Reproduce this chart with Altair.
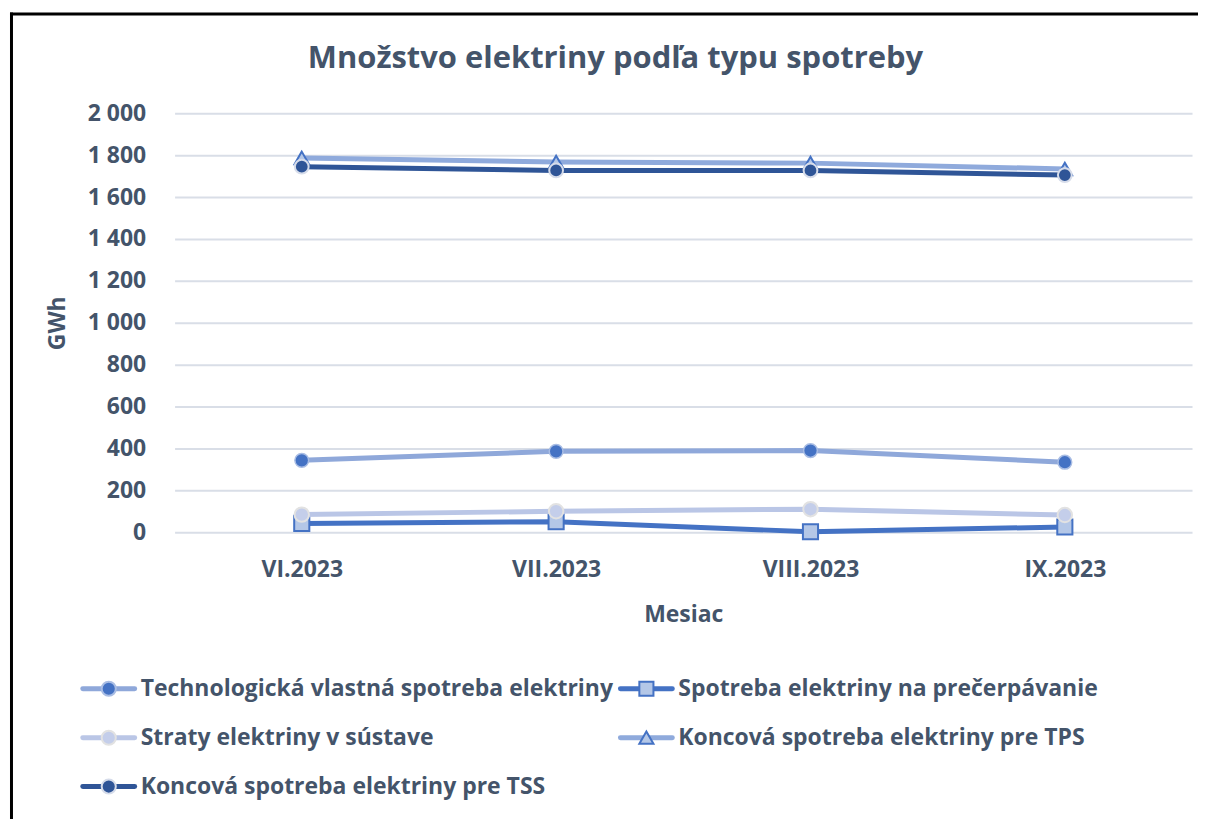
import altair as alt
import pandas as pd

# ---------------- data ----------------
months = ["VI.2023", "VII.2023", "VIII.2023", "IX.2023"]
series_names = [
    "Technologická vlastná spotreba elektriny",
    "Spotreba elektriny na prečerpávanie",
    "Straty elektriny v sústave",
    "Koncová spotreba elektriny pre TPS",
    "Koncová spotreba elektriny pre TSS",
]
tech_vals = [343, 386, 390, 334]
precerp_vals = [42, 50, 2, 25]
straty_vals = [84, 100, 110, 82]
tps_vals = [1787, 1767, 1762, 1734]
tss_vals = [1745, 1727, 1727, 1705]
y_ticks = [0, 200, 400, 600, 800, 1000, 1200, 1400, 1600, 1800, 2000]
legend_cols = [0, 1, 0, 1, 0]
legend_rows = [0, 0, 1, 1, 2]

title_text = "Množstvo elektriny podľa typu spotreby"
x_title = "Mesiac"
y_title = "GWh"

# ---------------- styles ----------------
FONT = "Open Sans"
TXT = "#44546A"
STYLE = {
    series_names[0]: dict(line="#8FA8DA", shape="circle", fill="#4472C4", stroke="#A9BDE4", sw=1.5, size=190),
    series_names[1]: dict(line="#4472C4", shape="square", fill="#B4C7E7", stroke="#4472C4", sw=2, size=230),
    series_names[2]: dict(line="#BAC6E6", shape="circle", fill="#C4CEEA", stroke="#E2E2E2", sw=2, size=210),
    series_names[3]: dict(line="#8FAADC", shape="triangle-up", fill="#B4C7E7", stroke="#4472C4", sw=2, size=210),
    series_names[4]: dict(line="#2F5597", shape="circle", fill="#2F5597", stroke="#D6DCEA", sw=2, size=190),
}

all_vals = [tech_vals, precerp_vals, straty_vals, tps_vals, tss_vals]
rows = []
for name, vals in zip(series_names, all_vals):
    for m, v in zip(months, vals):
        rows.append({"month": m, "series": name, "value": v})
df = pd.DataFrame(rows)

leg_rows = []
for name, c, r in zip(series_names, legend_cols, legend_rows):
    s = STYLE[name]
    leg_rows.append({"series": name, "col": c, "row": r, "line": s["line"],
                     "shape": s["shape"], "fill": s["fill"], "stroke": s["stroke"]})
leg = pd.DataFrame(leg_rows)

x_enc = alt.X("month:N", sort=months, scale=alt.Scale(domain=months, padding=0.5),
              axis=alt.Axis(title=x_title, labelAngle=0, ticks=False, tickSize=0, domain=False,
                            grid=False, labelPadding=26, titlePadding=23))
y_enc = alt.Y("value:Q", scale=alt.Scale(domain=[0, 2000], nice=False),
              axis=alt.Axis(title=y_title, values=y_ticks, ticks=False, tickSize=0, domain=False,
                            labelPadding=29, titlePadding=18,
                            labelExpr="replace(format(datum.value, ','), ',', ' ')"))

layers = []
for i, name in enumerate(series_names):
    s = STYLE[name]
    base = alt.Chart(df).transform_filter(alt.datum.series == name)
    xe = x_enc if i == 0 else alt.X("month:N", sort=months)
    ye = y_enc if i == 0 else alt.Y("value:Q")
    layers.append(base.mark_line(color=s["line"], strokeWidth=5, strokeCap="round", strokeJoin="round")
                  .encode(x=xe, y=ye))
    layers.append(base.mark_point(shape=s["shape"], filled=True, fill=s["fill"], stroke=s["stroke"],
                                  strokeWidth=s["sw"], size=s["size"], opacity=1)
                  .encode(x=alt.X("month:N", sort=months), y=alt.Y("value:Q")))
main = alt.layer(*layers)

# legend drawn from its own table
lx = alt.X("col:Q", scale=alt.Scale(domain=[0, 1], range=[-66, 473]), axis=None)
ly = alt.Y("row:Q", scale=alt.Scale(domain=[0, 2], range=[577, 675]), axis=None)
lbase = alt.Chart(leg)
leg_line = lbase.mark_rule(strokeWidth=5, strokeCap="round", xOffset=-26, x2Offset=26).encode(
    x=lx, x2=alt.X2("col:Q"), y=ly, color=alt.Color("line:N", scale=None))
leg_pt = lbase.mark_point(filled=True, size=200, strokeWidth=2, opacity=1).encode(
    x=alt.X("col:Q"), y=alt.Y("row:Q"),
    shape=alt.Shape("shape:N", scale=None),
    fill=alt.Fill("fill:N", scale=None),
    stroke=alt.Stroke("stroke:N", scale=None))
leg_txt = lbase.mark_text(align="left", baseline="middle", dx=32, font=FONT, fontSize=23,
                          fontWeight="bold", color=TXT).encode(
    x=alt.X("col:Q"), y=alt.Y("row:Q"), text="series:N")
legend = alt.layer(leg_line, leg_pt, leg_txt)

deco = alt.Chart(alt.Data(values=[{}]))
frame_left = deco.mark_rule(color="black", strokeWidth=3).encode(
    x=alt.value(-163.5), y=alt.value(-101), y2=alt.value(712))
frame_top = deco.mark_rule(color="black", strokeWidth=3).encode(
    x=alt.value(-165), x2=alt.value(1026), y=alt.value(-99.5))
title = deco.mark_text(align="center", baseline="middle", font=FONT, fontSize=31,
                       fontWeight="bold", color=TXT).encode(
    x=alt.value(442), y=alt.value(-54.5), text=alt.value(title_text))

chart = alt.layer(main, legend, frame_left, frame_top, title).resolve_scale(
    x="independent", y="independent"
).properties(
    width=1020, height=420, padding={"left": 0, "top": 1.5, "right": 0, "bottom": 0},
    background="white"
).configure_view(stroke=None).configure_axis(
    labelFont=FONT, labelFontSize=23, labelFontWeight="bold", labelColor=TXT,
    titleFont=FONT, titleFontSize=23, titleFontWeight="bold", titleColor=TXT,
    gridColor="#D9DEE7", gridWidth=2
)

chart.save("out.html", embed_options={"renderer": "svg", "actions": False})
